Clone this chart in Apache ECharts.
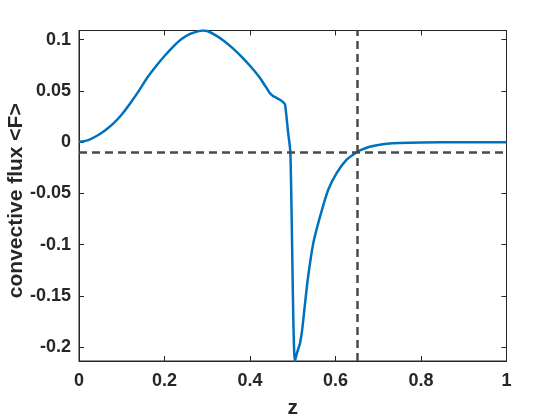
<!DOCTYPE html>
<html>
<head>
<meta charset="utf-8">
<script src="https://cdn.jsdelivr.net/npm/echarts@6/dist/echarts.min.js"></script>
<style>html,body{margin:0;padding:0;background:#fff}#c{width:560px;height:420px}</style>
</head>
<body>
<div id="c"></div>
<script>
const zValues = [0, 0.02, 0.04, 0.06, 0.08, 0.10, 0.12, 0.14, 0.16, 0.18, 0.20, 0.22, 0.24, 0.26, 0.28, 0.29, 0.30, 0.32, 0.34, 0.36, 0.38, 0.40, 0.42, 0.43, 0.44, 0.445, 0.45, 0.455, 0.46, 0.47, 0.478, 0.482, 0.489, 0.4945, 0.505, 0.511, 0.517, 0.522, 0.528, 0.536, 0.548, 0.564, 0.583, 0.603, 0.626, 0.647, 0.66, 0.68, 0.70, 0.72, 0.75, 0.80, 0.90, 1.0];
const fluxValues = [0.0003, 0.0018, 0.0058, 0.0112, 0.018, 0.027, 0.038, 0.050, 0.063, 0.074, 0.084, 0.093, 0.1005, 0.1055, 0.1083, 0.1089, 0.1084, 0.1042, 0.0985, 0.0915, 0.0835, 0.0745, 0.0645, 0.0585, 0.052, 0.0487, 0.0463, 0.0447, 0.0437, 0.0413, 0.0388, 0.0366, 0.010, -0.0105, -0.2134, -0.204, -0.196, -0.183, -0.160, -0.131, -0.0985, -0.0724, -0.0464, -0.030, -0.0171, -0.0105, -0.0075, -0.0045, -0.0027, -0.0015, -0.0007, -0.0002, 0, 0];
const xTicks = [0, 0.2, 0.4, 0.6, 0.8, 1];
const yTicks = [-0.2, -0.15, -0.1, -0.05, 0, 0.05, 0.1];
const refZ = 0.647;
const refF = -0.0105;
const yMin = -0.2134, yMax = 0.1089;

const txt = '#262626';
const font = '"Liberation Sans", Arial, sans-serif';
const chart = echarts.init(document.getElementById('c'), null, {renderer: 'canvas'});
const tickStyle = {show: true, inside: true, length: 5, lineStyle: {color: txt, width: 1}};
chart.setOption({
  animation: false,
  grid: {left: 79, right: 53.5, top: 30.5, bottom: 59, show: true, borderColor: txt, borderWidth: 1,
    backgroundColor: '#fff', containLabel: false, outerBoundsMode: 'none'},
  xAxis: [{
    type: 'value', min: 0, max: 1, position: 'bottom',
    axisLine: {show: true, onZero: false, lineStyle: {color: txt, width: 1}},
    axisTick: Object.assign({customValues: xTicks}, tickStyle),
    axisLabel: {customValues: xTicks, color: txt, fontSize: 18, fontWeight: 'bold', fontFamily: font, margin: 11,
      formatter: v => String(v)},
    splitLine: {show: false},
    name: 'z', nameLocation: 'middle', nameGap: 37, nameMoveOverlap: false,
    nameTextStyle: {color: txt, fontSize: 21, fontWeight: 'bold', fontFamily: font}
  }, {
    type: 'value', min: 0, max: 1, position: 'top',
    axisLine: {show: true, onZero: false, lineStyle: {color: txt, width: 1}},
    axisTick: Object.assign({customValues: xTicks}, tickStyle),
    axisLabel: {show: false}, splitLine: {show: false}
  }],
  yAxis: [{
    type: 'value', min: yMin, max: yMax, position: 'left',
    axisLine: {show: true, onZero: false, lineStyle: {color: txt, width: 1}},
    axisTick: Object.assign({customValues: yTicks}, tickStyle),
    axisLabel: {customValues: yTicks, color: txt, fontSize: 18, fontWeight: 'bold', fontFamily: font, margin: 8,
      formatter: v => String(Math.round(v * 100) / 100)},
    splitLine: {show: false},
    name: 'convective flux <F>', nameLocation: 'middle', nameGap: 52, nameMoveOverlap: false,
    nameTextStyle: {color: txt, fontSize: 21, fontWeight: 'bold', fontFamily: font, padding: [0, 10, 0, 0]}
  }, {
    type: 'value', min: yMin, max: yMax, position: 'right',
    axisLine: {show: true, onZero: false, lineStyle: {color: txt, width: 1}},
    axisTick: Object.assign({customValues: yTicks}, tickStyle),
    axisLabel: {show: false}, splitLine: {show: false}
  }],
  series: [{
    type: 'line',
    xAxisIndex: 0, yAxisIndex: 0,
    data: zValues.map((z, i) => [z, fluxValues[i]]),
    showSymbol: false,
    smooth: 0.25,
    lineStyle: {color: '#0072BD', width: 2.5},
    clip: true,
    z: 2,
    markLine: {
      silent: true, symbol: ['none', 'none'], label: {show: false},
      lineStyle: {color: '#4a4a4a', width: 2.5, type: [8, 5]},
      data: [{xAxis: refZ}, {yAxis: refF}]
    }
  }]
});
</script>
</body>
</html>
